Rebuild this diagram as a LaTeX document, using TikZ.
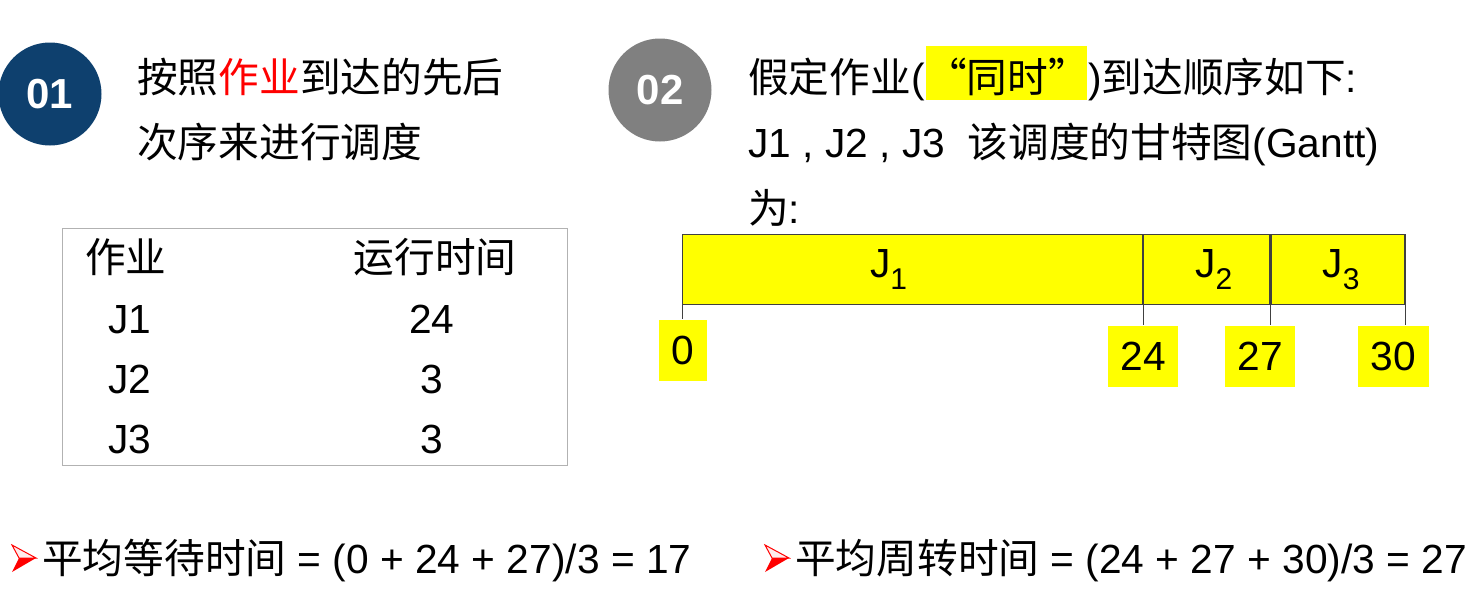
\documentclass[tikz,border=0pt]{standalone}
\usepackage{fontspec}
\setmainfont{Liberation Sans}
\newfontfamily\cjk{Noto Sans CJK SC}
\definecolor{badgeblue}{RGB}{14,64,110}
\definecolor{badgegray}{RGB}{128,128,128}
\definecolor{marker}{RGB}{255,255,0}
\usetikzlibrary{positioning}

\begin{document}
\begin{tikzpicture}[x=1pt, y=-1pt,
    txt/.style={inner sep=0pt, anchor=base west, font=\fontsize{40.7}{48}\selectfont},
    cell/.style={inner sep=0pt, anchor=base, font=\fontsize{40.7}{48}\selectfont},
    badge/.style={circle, minimum size=103pt, inner sep=0pt, text=white, font=\fontsize{42}{42}\selectfont\bfseries},
    seg/.style={draw=black!75, line width=1.2pt, fill=marker, minimum height=70pt, inner sep=0pt, anchor=north west, font=\fontsize{40.7}{48}\selectfont},
    tickbox/.style={fill=marker, minimum height=61pt, inner sep=0pt, font=\fontsize{40.7}{48}\selectfont},
    tick/.style={draw=black!75, line width=1pt}]
    \useasboundingbox (0,0) rectangle (1472,605);

    % 01
    \node[badge, fill=badgeblue] (one) at (50,94) {01};
    \node[txt] (onea) at (137,92) {{\cjk 按照}\textcolor{red}{\cjk 作业}{\cjk 到达的先后}};
    \node[txt] (oneb) at (137,157) {\cjk 次序来进行调度};

    % 02
    \node[badge, fill=badgegray] (two) at (660,90) {02};
    \node[txt] (twoa) at (748,92) {{\cjk 假定作业}(};
    \node[txt, fill=marker, text width=161pt, align=center, text height=46pt, text depth=8pt] (same) at (926,92) {\cjk “同时”};
    \node[txt] (twob) at (1088,92) {){\cjk 到达顺序如下}:};
    \node[txt] (twoc) at (748,157) {J1 , J2 , J3\ \ {\cjk 该调度的甘特图}(Gantt)};
    \node[txt] (twod) at (748,223) {{\cjk 为}:};

    % table
    \node[draw=black!30, line width=1pt, minimum width=505pt, minimum height=237pt, anchor=north west] (tbl) at (62,228) {};
    \node[txt] (hjob) at (85,272) {\cjk 作业};
    \node[cell] (htime) at (435,272) {\cjk 运行时间};
    \node[txt] (rone) at (108,333) {J1};
    \node[txt] (rtwo) at (108,393) {J2};
    \node[txt] (rthree) at (108,453) {J3};
    \node[cell] (vone) at (432,333) {24};
    \node[cell] (vtwo) at (432,393) {3};
    \node[cell] (vthree) at (432,453) {3};

    % gantt
    \node[seg, minimum width=460pt] (jone) at (682,234) {J\raisebox{-0.28em}{\fontsize{30}{30}\selectfont 1}\rule{48pt}{0pt}};
    \node[seg, minimum width=126pt] (jtwo) at (jone.north east) {\hspace{14pt}J\raisebox{-0.28em}{\fontsize{30}{30}\selectfont 2}};
    \node[seg, minimum width=134pt] (jthree) at (jtwo.north east) {\hspace{6pt}J\raisebox{-0.28em}{\fontsize{30}{30}\selectfont 3}};

    \node[tickbox, minimum width=48pt] (tzero) at (683,350) {0};
    \node[tickbox, minimum width=70pt] (tfour) at (1143,356) {24};
    \node[tickbox, minimum width=70pt] (tseven) at (1260,356) {27};
    \node[tickbox, minimum width=71pt] (tthirty) at (1393,356) {30};
    \draw[tick] (jone.south west) -- (jone.south west |- tzero.north);
    \draw[tick] (jone.south east) -- (jone.south east |- tfour.north);
    \draw[tick] (jtwo.south east) -- (jtwo.south east |- tseven.north);
    \draw[tick] (jthree.south east) -- (jthree.south east |- tthirty.north);

    % results
    \foreach \px in {0,753} {
        \filldraw[fill=red!8, draw=red, line width=1pt] (12+\px,545) -- (36+\px,558) -- (19+\px,558) -- cycle;
        \fill[red] (12+\px,572) -- (36+\px,558) -- (19+\px,558) -- cycle;
    }
    \node[txt] (wait) at (42,573) {{\cjk 平均等待时间} = (0 + 24 + 27)/3 = 17};
    \node[txt] (turn) at (795,573) {{\cjk 平均周转时间} = (24 + 27 + 30)/3 = 27};
\end{tikzpicture}
\end{document}
